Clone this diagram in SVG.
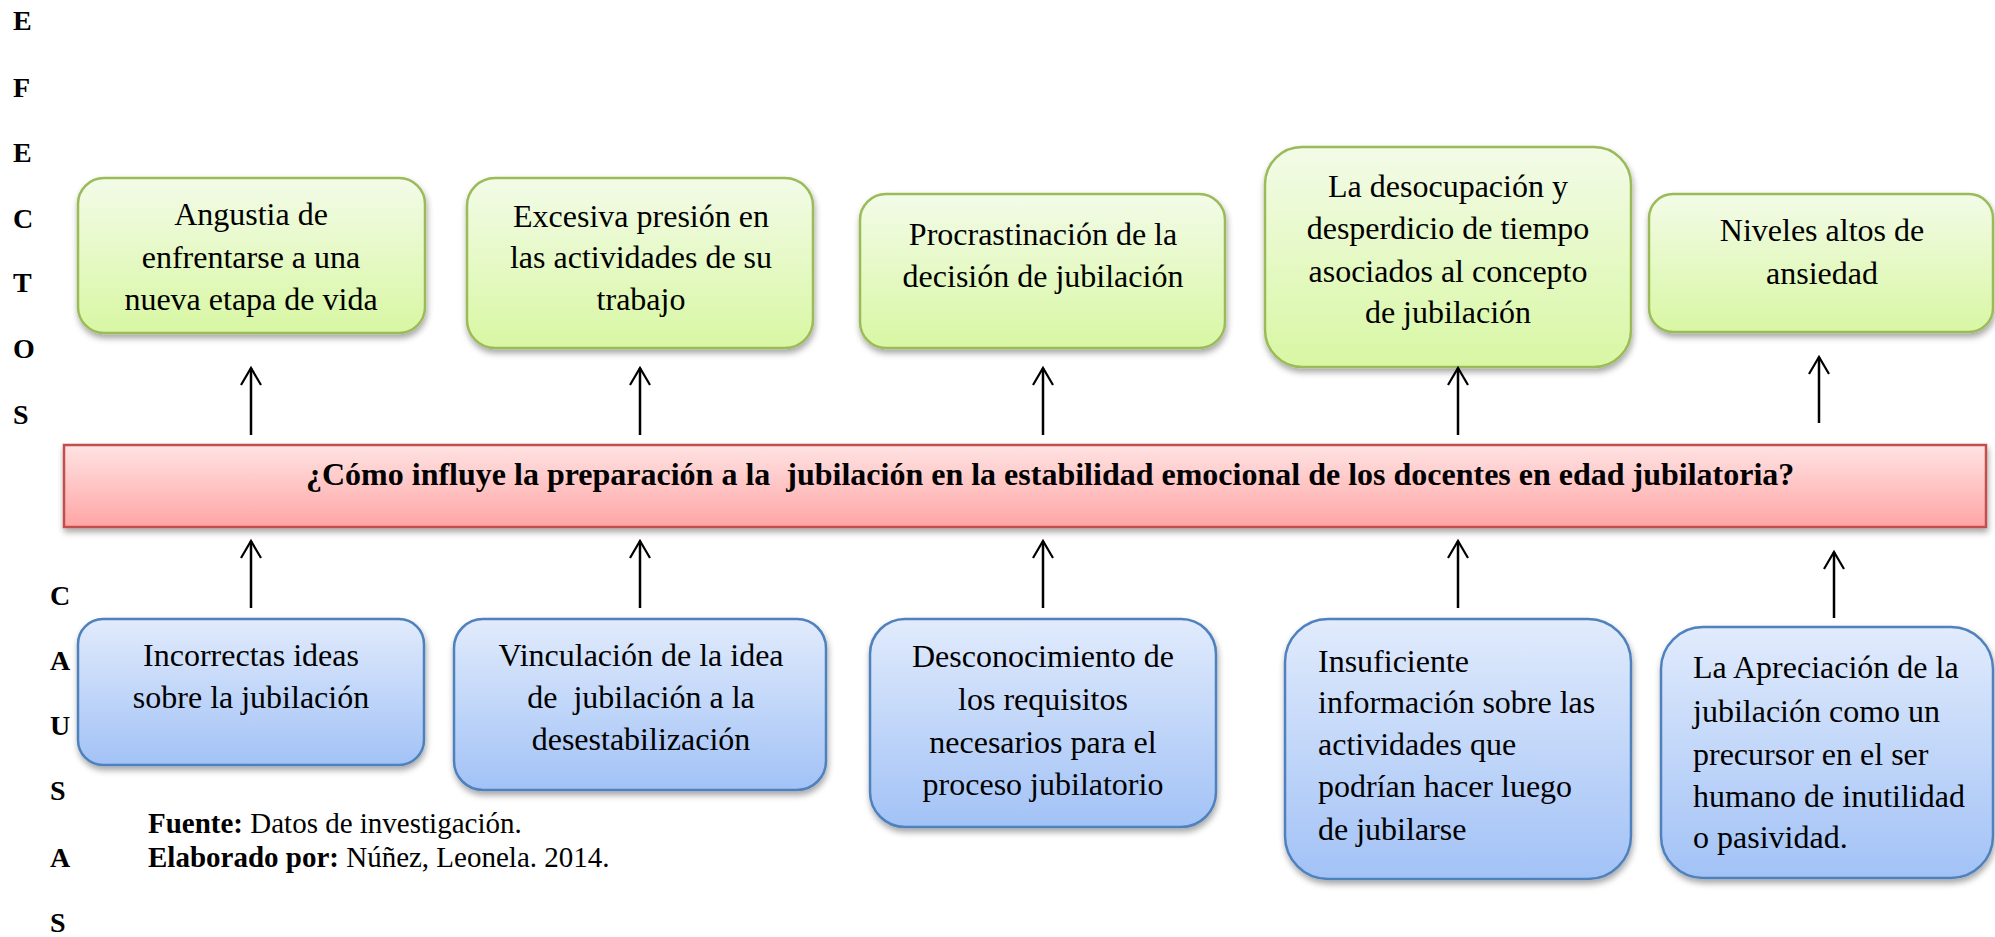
<svg xmlns="http://www.w3.org/2000/svg" width="1995" height="937" viewBox="0 0 1995 937">
<defs>
<linearGradient id="gGreen" x1="0" y1="0" x2="0" y2="1"><stop offset="0" stop-color="#f3fbe8"/><stop offset="1" stop-color="#d8f7a3"/></linearGradient>
<linearGradient id="gBlue" x1="0" y1="0" x2="0" y2="1"><stop offset="0" stop-color="#e1ebfc"/><stop offset="1" stop-color="#a2c2f6"/></linearGradient>
<linearGradient id="gRed" x1="0" y1="0" x2="0" y2="1"><stop offset="0" stop-color="#ffe3e3"/><stop offset="1" stop-color="#ffa5a5"/></linearGradient>
<filter id="sh" x="-10%" y="-10%" width="120%" height="130%"><feDropShadow dx="1" dy="4" stdDeviation="3" flood-color="#000" flood-opacity="0.35"/></filter>
<marker id="ah" viewBox="0 0 22 22" refX="19" refY="11" markerWidth="22" markerHeight="22" markerUnits="userSpaceOnUse" orient="auto"><path d="M2,1 L19,11 L2,21" fill="none" stroke="#000" stroke-width="2.2"/></marker>
</defs>
<style>
.g{fill:url(#gGreen);stroke:#9bbb59;stroke-width:2.5;filter:url(#sh)}
.b{fill:url(#gBlue);stroke:#4f81bd;stroke-width:2.5;filter:url(#sh)}
.r{fill:url(#gRed);stroke:#c0504d;stroke-width:2.5;filter:url(#sh)}
.t{font-family:"Liberation Serif","Times New Roman",serif;font-size:32px;fill:#000}
.c{text-anchor:middle}
.q{font-family:"Liberation Serif","Times New Roman",serif;font-size:32px;font-weight:bold;fill:#000}
.side{font-family:"Liberation Serif","Times New Roman",serif;font-size:28px;font-weight:bold;fill:#000}
.src{font-family:"Liberation Serif","Times New Roman",serif;font-size:29px;fill:#000}
.ar{stroke:#000;stroke-width:2.5;fill:none;marker-end:url(#ah)}
</style>
<rect width="1995" height="937" fill="#fff"/>
<g id="label-efectos" class="side">
<text x="13" y="30">E</text><text x="13" y="97">F</text><text x="13" y="162">E</text><text x="13" y="228">C</text><text x="13" y="292">T</text><text x="13" y="358">O</text><text x="13" y="424">S</text>
</g>
<g id="label-causas" class="side">
<text x="50" y="605">C</text><text x="50" y="670">A</text><text x="50" y="735">U</text><text x="50" y="800">S</text><text x="50" y="867">A</text><text x="50" y="932">S</text>
</g>
<g id="e1"><rect class="g" x="78" y="178" width="347" height="155" rx="26"/><text class="t c"><tspan x="251" y="225">Angustia de</tspan><tspan x="251" y="268">enfrentarse a una</tspan><tspan x="251" y="310">nueva etapa de vida</tspan></text></g>
<g id="e2"><rect class="g" x="467" y="178" width="346" height="170" rx="28"/><text class="t c"><tspan x="641" y="227">Excesiva presión en</tspan><tspan x="641" y="268">las actividades de su</tspan><tspan x="641" y="310">trabajo</tspan></text></g>
<g id="e3"><rect class="g" x="860" y="194" width="365" height="154" rx="26"/><text class="t c"><tspan x="1043" y="245">Procrastinación de la</tspan><tspan x="1043" y="287">decisión de jubilación</tspan></text></g>
<g id="e4"><rect class="g" x="1265" y="147" width="366" height="220" rx="37"/><text class="t c"><tspan x="1448" y="197">La desocupación y</tspan><tspan x="1448" y="239">desperdicio de tiempo</tspan><tspan x="1448" y="282">asociados al concepto</tspan><tspan x="1448" y="323">de jubilación</tspan></text></g>
<g id="e5"><rect class="g" x="1649" y="194" width="344" height="138" rx="24"/><text class="t c"><tspan x="1822" y="241">Niveles altos de</tspan><tspan x="1822" y="284">ansiedad</tspan></text></g>
<g id="problem"><rect class="r" x="64" y="445" width="1922" height="82"/><text class="q" x="306" y="485" xml:space="preserve">¿Cómo influye la preparación a la  jubilación en la estabilidad emocional de los docentes en edad jubilatoria?</text></g>
<g id="c1"><rect class="b" x="78" y="619" width="346" height="146" rx="25"/><text class="t c"><tspan x="251" y="666">Incorrectas ideas</tspan><tspan x="251" y="708">sobre la jubilación</tspan></text></g>
<g id="c2"><rect class="b" x="454" y="619" width="372" height="171" rx="29"/><text class="t c" xml:space="preserve"><tspan x="641" y="666">Vinculación de la idea</tspan><tspan x="641" y="708">de  jubilación a la</tspan><tspan x="641" y="750">desestabilización</tspan></text></g>
<g id="c3"><rect class="b" x="870" y="619" width="346" height="208" rx="35"/><text class="t c"><tspan x="1043" y="667">Desconocimiento de</tspan><tspan x="1043" y="710">los requisitos</tspan><tspan x="1043" y="753">necesarios para el</tspan><tspan x="1043" y="795">proceso jubilatorio</tspan></text></g>
<g id="c4"><rect class="b" x="1285" y="619" width="346" height="260" rx="43"/><text class="t"><tspan x="1318" y="672">Insuficiente</tspan><tspan x="1318" y="713">información sobre las</tspan><tspan x="1318" y="755">actividades que</tspan><tspan x="1318" y="797">podrían hacer luego</tspan><tspan x="1318" y="840">de jubilarse</tspan></text></g>
<g id="c5"><rect class="b" x="1661" y="627" width="332" height="251" rx="42"/><text class="t"><tspan x="1693" y="678">La Apreciación de la</tspan><tspan x="1693" y="722">jubilación como un</tspan><tspan x="1693" y="765">precursor en el ser</tspan><tspan x="1693" y="807">humano de inutilidad</tspan><tspan x="1693" y="848">o pasividad.</tspan></text></g>
<g id="source" class="src"><text x="148" y="833"><tspan font-weight="bold">Fuente:</tspan> Datos de investigación.</text><text x="148" y="867"><tspan font-weight="bold">Elaborado por:</tspan> Núñez, Leonela. 2014.</text></g>
<g id="connectors">
<line class="ar" x1="251" y1="435" x2="251" y2="368"/>
<line class="ar" x1="640" y1="435" x2="640" y2="368"/>
<line class="ar" x1="1043" y1="435" x2="1043" y2="368"/>
<line class="ar" x1="1458" y1="435" x2="1458" y2="368"/>
<line class="ar" x1="1819" y1="423" x2="1819" y2="357"/>
<line class="ar" x1="251" y1="608" x2="251" y2="541"/>
<line class="ar" x1="640" y1="608" x2="640" y2="541"/>
<line class="ar" x1="1043" y1="608" x2="1043" y2="541"/>
<line class="ar" x1="1458" y1="608" x2="1458" y2="541"/>
<line class="ar" x1="1834" y1="618" x2="1834" y2="552"/>
</g>
</svg>
